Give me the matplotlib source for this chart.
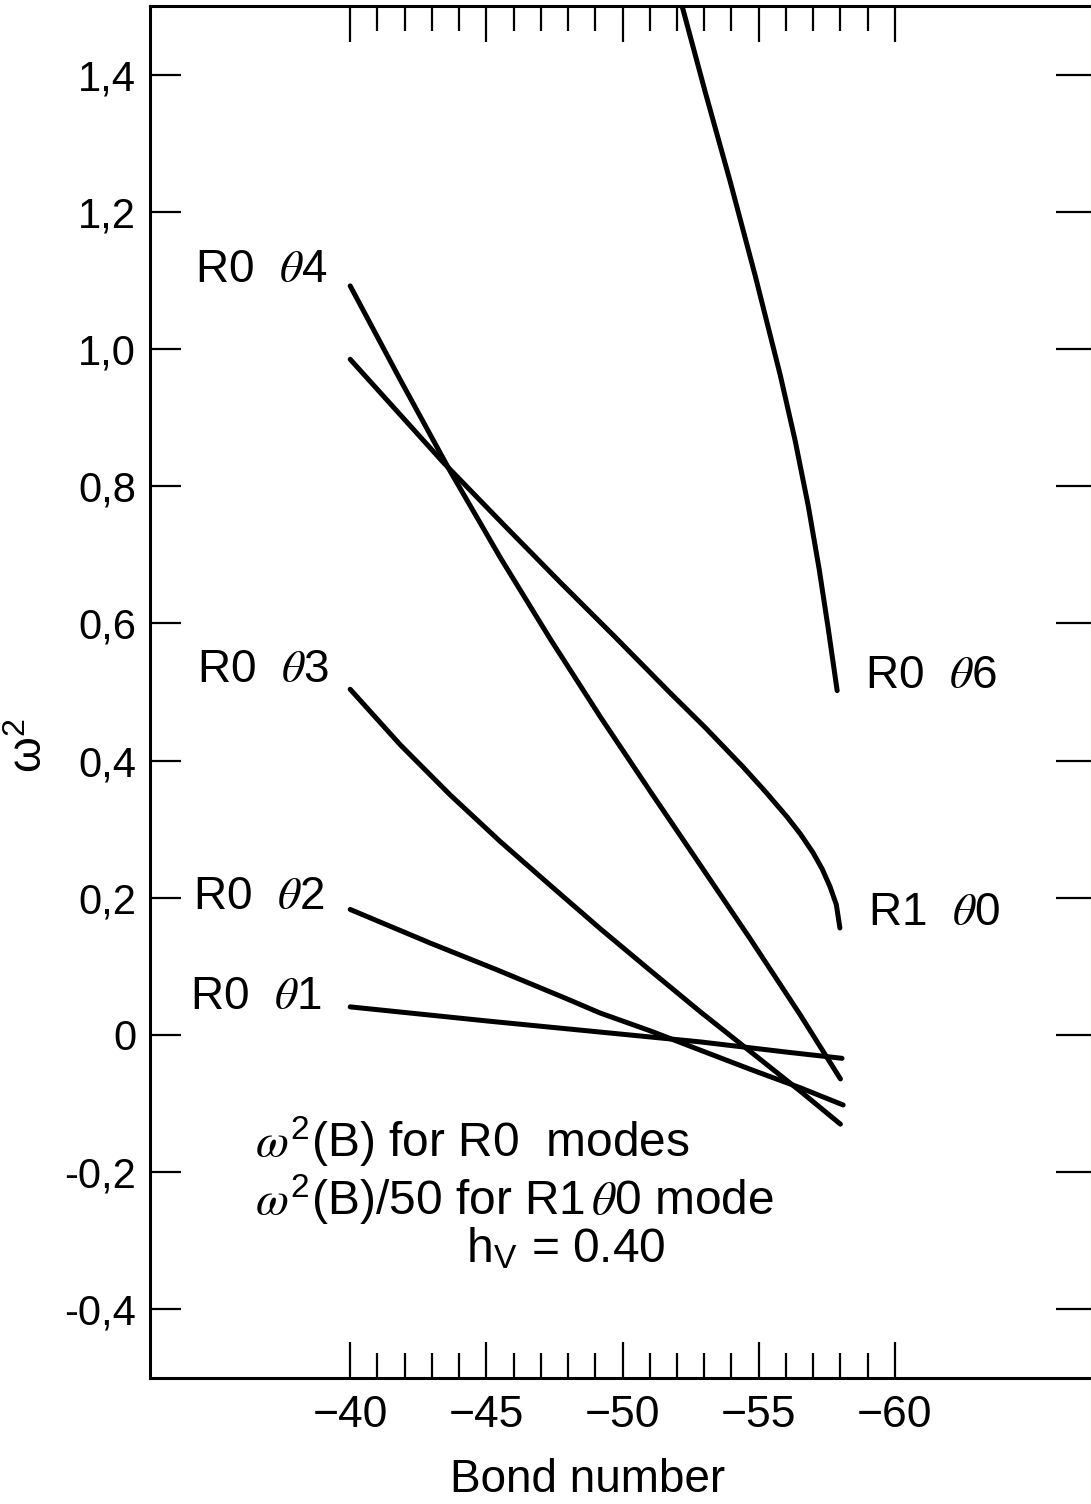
import matplotlib
matplotlib.use("Agg")
import matplotlib.pyplot as plt
from matplotlib.ticker import FixedLocator

plt.rcParams['font.family'] = ['Liberation Sans', 'DejaVu Sans']
plt.rcParams['mathtext.fontset'] = 'custom'
plt.rcParams['mathtext.rm'] = 'Liberation Sans'
plt.rcParams['mathtext.sf'] = 'Liberation Sans'
plt.rcParams['mathtext.it'] = 'STIXGeneral:italic'
plt.rcParams['mathtext.bf'] = 'Liberation Sans:bold'

# ---- data ----
r0t1_x = [-40.0, -45.14, -50.28, -52.84, -56.04, -58.06]
r0t1_y = [0.041, 0.020, 0.000, -0.010, -0.025, -0.034]

r0t2_x = [-40.0, -42.94, -45.39, -47.82, -49.18, -51.02, -52.85, -54.69, -56.53, -58.10]
r0t2_y = [0.183, 0.134, 0.095, 0.055, 0.032, 0.006, -0.022, -0.050, -0.077, -0.102]

r0t3_x = [-40.0, -41.84, -43.67, -45.51, -47.35, -49.18, -51.02, -52.85, -54.69, -56.53, -58.0]
r0t3_y = [0.504, 0.423, 0.350, 0.282, 0.218, 0.155, 0.094, 0.034, -0.024, -0.082, -0.130]

r0t4_x = [-40.0, -41.84, -43.67, -45.51, -47.35, -49.18, -51.02, -52.85, -54.69, -56.53, -58.0]
r0t4_y = [1.092, 0.955, 0.822, 0.696, 0.577, 0.464, 0.355, 0.248, 0.140, 0.029, -0.064]

r1t0_x = [-40.0, -43.41, -45.51, -47.71, -49.73, -51.74, -53.04, -54.42, -55.24,
          -56.04, -56.53, -56.99, -57.33, -57.62, -57.85, -57.98]
r1t0_y = [0.985, 0.835, 0.749, 0.660, 0.580, 0.499, 0.448, 0.391, 0.355,
          0.318, 0.293, 0.266, 0.242, 0.216, 0.190, 0.156]

r0t6_x = [-52.05, -53.04, -53.96, -54.87, -55.79, -56.34, -56.82, -57.22, -57.55, -57.88]
r0t6_y = [1.520, 1.374, 1.243, 1.107, 0.962, 0.866, 0.771, 0.679, 0.593, 0.502]

x_major = [-40, -45, -50, -55, -60]
x_major_labels = ['\u221240', '\u221245', '\u221250', '\u221255', '\u221260']
x_minor = [v for v in range(-40, -61, -1) if v % 5 != 0]
y_ticks = [-0.4, -0.2, 0.0, 0.2, 0.4, 0.6, 0.8, 1.0, 1.2, 1.4]
y_tick_labels = ['-0,4', '-0,2', '0', '0,2', '0,4', '0,6', '0,8', '1,0', '1,2', '1,4']

curve_labels = [
    (r'R0  $\theta$4', 0.0478, 0.8076),
    (r'R0  $\theta$3', 0.0500, 0.5160),
    (r'R0  $\theta$2', 0.0457, 0.3506),
    (r'R0  $\theta$1', 0.0425, 0.2777),
    (r'R0  $\theta$6', 0.7600, 0.5117),
    (r'R1  $\theta$0', 0.7630, 0.3389),
]

# ---- figure ----
W, H = 1091, 1504
fig = plt.figure(figsize=(W / 100, H / 100), dpi=100)
ax = fig.add_axes([150 / W, 1 - 1378 / H, (W - 150) / W, (1378 - 6) / H])

lw = 3.6
for xs, ys in [(r0t1_x, r0t1_y), (r0t2_x, r0t2_y), (r0t3_x, r0t3_y),
               (r0t4_x, r0t4_y), (r1t0_x, r1t0_y), (r0t6_x, r0t6_y)]:
    ax.plot(xs, ys, color='black', lw=lw, solid_capstyle='round',
            solid_joinstyle='round')

ax.set_xlim(-32.65, -67.2)
ax.set_ylim(-0.5, 1.5)

for s in ['left', 'bottom', 'top']:
    ax.spines[s].set_linewidth(2.2)
ax.spines['right'].set_visible(False)

ax.xaxis.set_major_locator(FixedLocator(x_major))
ax.xaxis.set_minor_locator(FixedLocator(x_minor))
ax.set_xticklabels(x_major_labels)
ax.set_yticks(y_ticks)
ax.set_yticklabels(y_tick_labels)

ax.tick_params(axis='x', which='major', direction='in', length=26, width=1.6,
               top=True, bottom=True, labelsize=32, pad=12)
ax.tick_params(axis='x', which='minor', direction='in', length=18, width=1.6,
               top=True, bottom=True)
ax.tick_params(axis='y', which='major', direction='in', length=22, width=1.6,
               left=True, right=True, labelsize=30, pad=10)
for t in ax.yaxis.get_major_ticks():
    t.tick2line.set_markersize(25)

ax.set_xlabel('Bond number', fontsize=33)
ax.xaxis.set_label_coords(0.465, -0.058)
ax.set_ylabel(r'ω$^{2}$', fontsize=33)
ax.yaxis.set_label_coords(-0.104, 0.461)

for txt, x, y in curve_labels:
    ax.text(x, y, txt, transform=ax.transAxes, fontsize=33,
            ha='left', va='center')

ax.text(0.1116, 0.172, r'$\omega^{2}$(B) for R0  modes', transform=ax.transAxes,
        fontsize=34.5, ha='left', va='center')
ax.text(0.1116, 0.1297, r'$\omega^{2}$(B)/50 for R1$\,\theta$0 mode',
        transform=ax.transAxes, fontsize=34.5, ha='left', va='center')
ax.text(0.3358, 0.0933, r'h$_{\mathrm{V}}$ = 0.40', transform=ax.transAxes,
        fontsize=34.5, ha='left', va='center')

fig.savefig('out.png', dpi=100)
